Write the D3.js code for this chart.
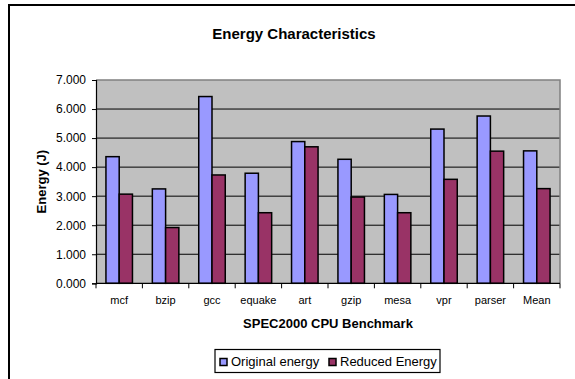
<!DOCTYPE html>
<html>
<head>
<meta charset="utf-8">
<script src="https://cdn.jsdelivr.net/npm/d3@7"></script>
<style>
  html, body { margin: 0; padding: 0; background: #fff; }
  svg { display: block; font-family: "Liberation Sans", Arial, sans-serif; }
</style>
</head>
<body>
<svg id="chart" width="575" height="379"></svg>
<script>
// Benchmarks and measured energy (J)
const categories = ["mcf", "bzip", "gcc", "equake", "art", "gzip", "mesa", "vpr", "parser", "Mean"];
const seriesNames = ["Original energy", "Reduced Energy"];
const originalEnergy = [4.36, 3.25, 6.43, 3.79, 4.88, 4.27, 3.06, 5.31, 5.76, 4.56];
const reducedEnergy  = [3.07, 1.92, 3.73, 2.43, 4.70, 2.97, 2.43, 3.58, 4.55, 3.26];
const yTicks = [0, 1, 2, 3, 4, 5, 6, 7];
const colors = ["#9999FF", "#993366"];

const svg = d3.select("#chart");

// Chart frame (extends past the right and bottom edges)
svg.append("rect")
  .attr("x", 9).attr("y", 5)
  .attr("width", 600).attr("height", 400)
  .attr("fill", "#fff").attr("stroke", "#000").attr("stroke-width", 2);

const plot = { left: 96, right: 560, top: 80, bottom: 283.3 };

const x0 = d3.scaleBand().domain(categories).range([plot.left, plot.right]).padding(0);
const x1 = d3.scaleBand().domain(seriesNames).range([0, x0.bandwidth()])
  .paddingInner(0).paddingOuter(0.75);
const y = d3.scaleLinear().domain([0, 7]).range([plot.bottom, plot.top]);

// Plot background
svg.append("rect")
  .attr("x", plot.left).attr("y", plot.top)
  .attr("width", plot.right - plot.left).attr("height", plot.bottom - plot.top)
  .attr("fill", "#C0C0C0");

// Horizontal gridlines
svg.append("g").selectAll("line")
  .data(yTicks.filter(d => d > 0 && d < 7))
  .join("line")
  .attr("x1", plot.left).attr("x2", plot.right)
  .attr("y1", d => y(d)).attr("y2", d => y(d))
  .attr("stroke", "#000").attr("stroke-width", 1);

// Plot border (top and right)
svg.append("path")
  .attr("d", `M${plot.left},${y(7)}H${plot.right}V${plot.bottom}`)
  .attr("fill", "none").attr("stroke", "#808080").attr("stroke-width", 1.5);

// Bars
const rows = categories.map((c, i) => ({ cat: c, vals: [originalEnergy[i], reducedEnergy[i]] }));
const groups = svg.append("g").selectAll("g")
  .data(rows).join("g")
  .attr("transform", d => `translate(${x0(d.cat)},0)`);
groups.selectAll("rect")
  .data(d => d.vals.map((v, k) => ({ name: seriesNames[k], v, k })))
  .join("rect")
  .attr("x", d => x1(d.name))
  .attr("width", x1.bandwidth())
  .attr("y", d => y(d.v))
  .attr("height", d => y(0) - y(d.v))
  .attr("fill", d => colors[d.k])
  .attr("stroke", "#000").attr("stroke-width", 1.5);

// Y axis
const yAxis = svg.append("g")
  .attr("transform", `translate(${plot.left},0)`)
  .call(d3.axisLeft(y).tickValues(yTicks).tickFormat(d3.format(".3f")).tickSize(4).tickPadding(6));
yAxis.select(".domain").attr("stroke", "#000").attr("stroke-width", 1.2);
yAxis.selectAll("text").attr("font-size", 12).attr("fill", "#000")
  .attr("font-family", "Liberation Sans, Arial, sans-serif");

// X axis: ticks sit on category boundaries
const boundaries = categories.map(c => x0(c)).concat([plot.right]);
svg.append("line")
  .attr("x1", plot.left).attr("x2", plot.right)
  .attr("y1", plot.bottom).attr("y2", plot.bottom)
  .attr("stroke", "#000").attr("stroke-width", 1.2);
svg.append("g").selectAll("line")
  .data(boundaries).join("line")
  .attr("x1", d => d).attr("x2", d => d)
  .attr("y1", plot.bottom).attr("y2", plot.bottom + 5)
  .attr("stroke", "#000").attr("stroke-width", 1);
svg.append("g").selectAll("text")
  .data(categories).join("text")
  .attr("x", d => x0(d) + x0.bandwidth() / 2)
  .attr("y", 304)
  .attr("text-anchor", "middle")
  .attr("font-size", 11)
  .text(d => d);

// Titles
svg.append("text")
  .attr("x", 294).attr("y", 39)
  .attr("text-anchor", "middle")
  .attr("font-size", 15).attr("font-weight", "bold")
  .text("Energy Characteristics");
svg.append("text")
  .attr("x", (plot.left + plot.right) / 2).attr("y", 328)
  .attr("text-anchor", "middle")
  .attr("font-size", 13).attr("font-weight", "bold")
  .text("SPEC2000 CPU Benchmark");
svg.append("text")
  .attr("transform", `translate(46,${(plot.top + plot.bottom) / 2}) rotate(-90)`)
  .attr("text-anchor", "middle")
  .attr("font-size", 13).attr("font-weight", "bold")
  .text("Energy (J)");

// Legend
const legend = svg.append("g");
legend.append("rect")
  .attr("x", 215).attr("y", 349.5).attr("width", 225).attr("height", 23)
  .attr("fill", "#fff").attr("stroke", "#000").attr("stroke-width", 1.2);
const legendX = [220, 329];
seriesNames.forEach((name, k) => {
  legend.append("rect")
    .attr("x", legendX[k]).attr("y", 358.5).attr("width", 7).attr("height", 7)
    .attr("fill", colors[k]).attr("stroke", "#000").attr("stroke-width", 1.5);
  legend.append("text")
    .attr("x", legendX[k] + 11).attr("y", 366)
    .attr("font-size", 13)
    .text(name);
});
</script>
</body>
</html>
